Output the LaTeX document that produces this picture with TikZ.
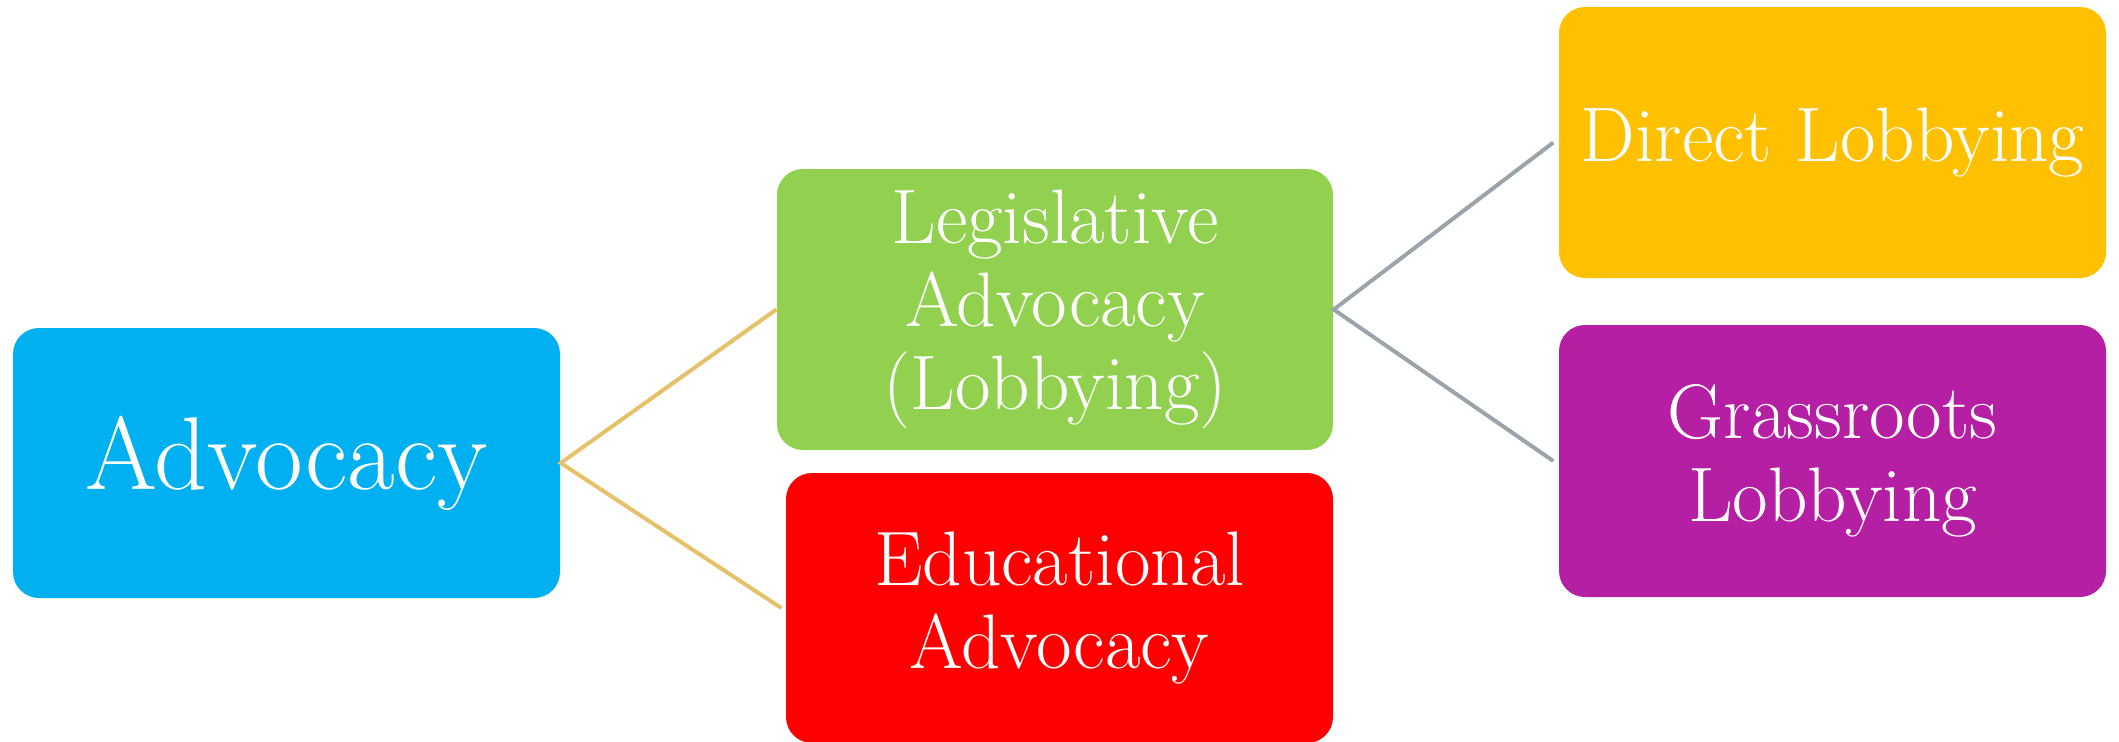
\documentclass[tikz,border=0pt]{standalone}
\definecolor{advblue}{RGB}{0, 176, 240}
\definecolor{legisgreen}{RGB}{146, 208, 80}
\definecolor{edured}{RGB}{255, 0, 0}
\definecolor{directgold}{RGB}{255, 192, 0}
\definecolor{grasspurple}{RGB}{181, 31, 163}
\definecolor{linkgold}{RGB}{229, 193, 106}
\definecolor{linkgray}{RGB}{155, 163, 171}
\usepackage{tikz}
\usetikzlibrary{positioning, calc}
\tikzset{
  catbox/.style={rounded corners=0.26cm, inner sep=0pt, align=center, text=white,
    minimum width=5.47cm, minimum height=2.7cm, font=\fontsize{22}{23.6}\selectfont},
  linkline/.style={line width=0.04cm}
}

\begin{document}
\begin{tikzpicture}
  \useasboundingbox (0,0) rectangle (21.19,7.41);

  % Root
  \node[catbox, fill=advblue, font=\fontsize{29.5}{32}\selectfont] (adv) at (2.865, 2.78) {Advocacy};

  % Second level
  \node[catbox, fill=legisgreen, minimum width=5.56cm, minimum height=2.81cm] (legis) at (10.55, 4.315) {Legislative\\Advocacy\\(Lobbying)};
  \node[catbox, fill=edured] (edu) at (10.595, 1.33) {Educational\\Advocacy};

  % Third level
  \node[catbox, fill=directgold, minimum height=2.71cm] (direct) at (18.325, 5.985) {Direct Lobbying};
  \node[catbox, fill=grasspurple, minimum height=2.72cm] (grass) at (18.325, 2.80) {Grassroots\\Lobbying};

  % Links
  \draw[linkline, draw=linkgold] (legis.west) -- (adv.east) -- ([xshift=-0.04cm]edu.west);
  \draw[linkline, draw=linkgray] ([xshift=-0.05cm]direct.west) -- (legis.east) -- ([xshift=-0.05cm]grass.west);
\end{tikzpicture}
\end{document}
